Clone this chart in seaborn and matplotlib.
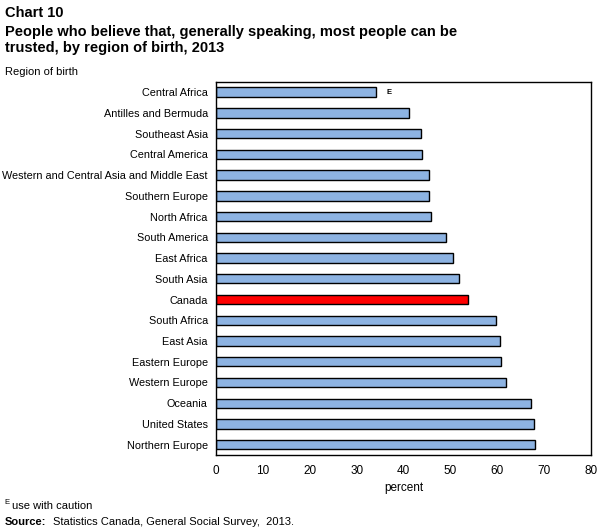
import matplotlib
matplotlib.use('Agg')
import matplotlib.pyplot as plt
import seaborn as sns
import pandas as pd

# 데이터
regions = ['Central Africa', 'Antilles and Bermuda', 'Southeast Asia', 'Central America',
           'Western and Central Asia and Middle East', 'Southern Europe', 'North Africa',
           'South America', 'East Africa', 'South Asia', 'Canada', 'South Africa',
           'East Asia', 'Eastern Europe', 'Western Europe', 'Oceania', 'United States',
           'Northern Europe']
percent = [34.2, 41.2, 43.6, 44.0, 45.3, 45.5, 45.9, 49.1, 50.6, 51.9, 53.7, 59.8,
           60.5, 60.7, 61.8, 67.1, 67.7, 68.0]
x_ticks = [0, 10, 20, 30, 40, 50, 60, 70, 80]

df = pd.DataFrame({'region': regions, 'percent': percent})
colors = ['#ff0000' if r == 'Canada' else '#8db3e2' for r in regions]

sns.set_style('white')
plt.rcParams['font.family'] = ['Liberation Sans', 'DejaVu Sans']
plt.rcParams['text.color'] = 'black'
plt.rcParams['axes.labelcolor'] = 'black'
plt.rcParams['xtick.color'] = 'black'
plt.rcParams['ytick.color'] = 'black'

fig = plt.figure(figsize=(6.07, 5.31), dpi=100)
ax = fig.add_axes([0.356, 0.143, 0.618, 0.703])
sns.barplot(data=df, x='percent', y='region', hue='region', palette=colors,
            legend=False, width=0.45, saturation=1, edgecolor='black', linewidth=1.0, ax=ax)

ax.set_xlim(0, 80)
ax.set_xticks(x_ticks)
ax.tick_params(axis='x', direction='out', length=4, width=1, labelsize=8.5)
ax.tick_params(axis='y', length=0, labelsize=7.8, pad=6)
for s in ax.spines.values():
    s.set_color('black')
    s.set_linewidth(1)
ax.set_xlabel('percent', fontsize=8.5, labelpad=3)
ax.set_ylabel('')

# E 표시
ax.text(36.3, 0, 'E', fontsize=5.5, fontweight='bold', va='center', ha='left')

fig.text(0.008, 0.988, 'Chart 10', fontsize=10.5, fontweight='bold', va='top')
fig.text(0.008, 0.953, 'People who believe that, generally speaking, most people can be\ntrusted, by region of birth, 2013',
         fontsize=10.5, fontweight='bold', va='top', linespacing=1.15)
fig.text(0.008, 0.873, 'Region of birth', fontsize=8, va='top')
fig.text(0.007, 0.048, 'E', fontsize=5.5, va='bottom')
fig.text(0.020, 0.037, 'use with caution', fontsize=8, va='bottom')
fig.text(0.008, 0.008, 'Source:', fontsize=8, fontweight='bold', va='bottom')
fig.text(0.088, 0.008, 'Statistics Canada, General Social Survey,  2013.', fontsize=8, va='bottom')

fig.savefig('out.png', dpi=100)
